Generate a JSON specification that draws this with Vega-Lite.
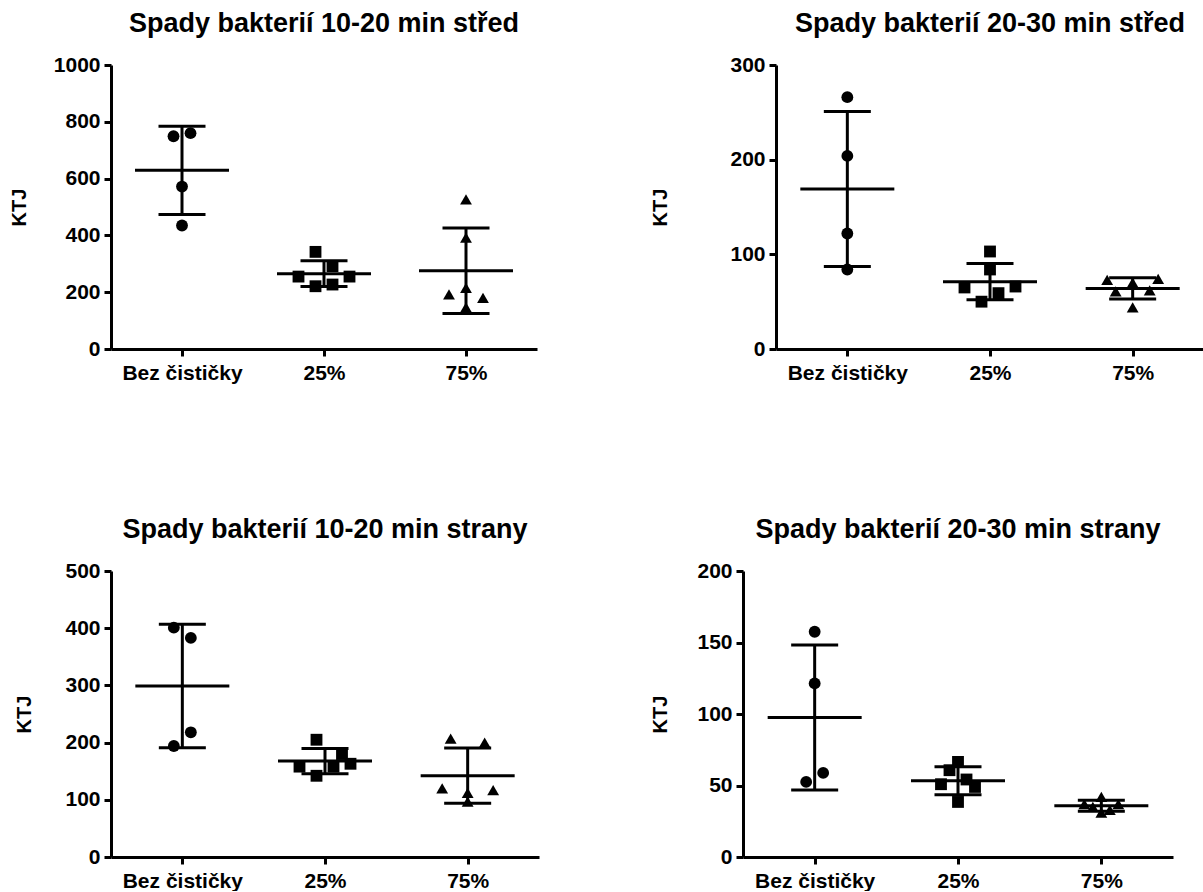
{
  "$schema": "https://vega.github.io/schema/vega-lite/v6.json",
  "background": "white",
  "padding": {"left": 9, "top": 10, "right": 0, "bottom": 0},
  "config": {
    "view": {"stroke": null},
    "font": "Liberation Sans",
    "axis": {"domainColor": "black", "domainWidth": 3, "tickColor": "black", "tickWidth": 3, "tickSize": 7, "labelFont": "Liberation Sans", "labelFontWeight": "bold", "labelFontSize": 21, "labelColor": "black", "titleFont": "Liberation Sans", "titleFontWeight": "bold", "titleFontSize": 20, "titleColor": "black", "grid": false, "labelPadding": 4},
    "title": {"font": "Liberation Sans", "fontWeight": "bold", "fontSize": 27, "color": "black", "anchor": "middle", "offset": 16}
  },
  "datasets": {
    "p1": [
      {"group": "Bez čističky", "ktj": 749, "jitter": -0.5},
      {"group": "Bez čističky", "ktj": 760, "jitter": 0.5},
      {"group": "Bez čističky", "ktj": 572, "jitter": 0},
      {"group": "Bez čističky", "ktj": 435, "jitter": 0},
      {"group": "25%", "ktj": 342, "jitter": -0.5},
      {"group": "25%", "ktj": 292, "jitter": 0.5},
      {"group": "25%", "ktj": 255, "jitter": -1.5},
      {"group": "25%", "ktj": 255, "jitter": 1.5},
      {"group": "25%", "ktj": 221, "jitter": -0.5},
      {"group": "25%", "ktj": 227, "jitter": 0.5},
      {"group": "75%", "ktj": 527, "jitter": 0},
      {"group": "75%", "ktj": 392, "jitter": 0},
      {"group": "75%", "ktj": 215, "jitter": 0},
      {"group": "75%", "ktj": 192, "jitter": -1},
      {"group": "75%", "ktj": 180, "jitter": 1},
      {"group": "75%", "ktj": 147, "jitter": 0}
    ],
    "p2": [
      {"group": "Bez čističky", "ktj": 266, "jitter": 0},
      {"group": "Bez čističky", "ktj": 204, "jitter": 0},
      {"group": "Bez čističky", "ktj": 122, "jitter": 0},
      {"group": "Bez čističky", "ktj": 84, "jitter": 0},
      {"group": "25%", "ktj": 103, "jitter": 0},
      {"group": "25%", "ktj": 84, "jitter": 0},
      {"group": "25%", "ktj": 65, "jitter": -1.5},
      {"group": "25%", "ktj": 66, "jitter": 1.5},
      {"group": "25%", "ktj": 59, "jitter": 0.5},
      {"group": "25%", "ktj": 50, "jitter": -0.5},
      {"group": "75%", "ktj": 73, "jitter": -1.5},
      {"group": "75%", "ktj": 70, "jitter": 0},
      {"group": "75%", "ktj": 74, "jitter": 1.5},
      {"group": "75%", "ktj": 61, "jitter": -1},
      {"group": "75%", "ktj": 62, "jitter": 1},
      {"group": "75%", "ktj": 44, "jitter": 0}
    ],
    "p3": [
      {"group": "Bez čističky", "ktj": 401, "jitter": -0.5},
      {"group": "Bez čističky", "ktj": 383, "jitter": 0.5},
      {"group": "Bez čističky", "ktj": 218, "jitter": 0.5},
      {"group": "Bez čističky", "ktj": 194, "jitter": -0.5},
      {"group": "25%", "ktj": 205, "jitter": -0.5},
      {"group": "25%", "ktj": 180, "jitter": 1},
      {"group": "25%", "ktj": 163, "jitter": 1.5},
      {"group": "25%", "ktj": 158, "jitter": -1.5},
      {"group": "25%", "ktj": 158, "jitter": 0.5},
      {"group": "25%", "ktj": 142, "jitter": -0.5},
      {"group": "75%", "ktj": 207, "jitter": -1},
      {"group": "75%", "ktj": 200, "jitter": 1},
      {"group": "75%", "ktj": 120, "jitter": -1.5},
      {"group": "75%", "ktj": 117, "jitter": 1.5},
      {"group": "75%", "ktj": 112, "jitter": 0},
      {"group": "75%", "ktj": 97, "jitter": 0}
    ],
    "p4": [
      {"group": "Bez čističky", "ktj": 157.5, "jitter": 0},
      {"group": "Bez čističky", "ktj": 121.4, "jitter": 0},
      {"group": "Bez čističky", "ktj": 58.8, "jitter": 0.5},
      {"group": "Bez čističky", "ktj": 52.5, "jitter": -0.5},
      {"group": "25%", "ktj": 66.5, "jitter": 0},
      {"group": "25%", "ktj": 60.7, "jitter": -0.5},
      {"group": "25%", "ktj": 54.2, "jitter": 0.5},
      {"group": "25%", "ktj": 50.9, "jitter": -1},
      {"group": "25%", "ktj": 49, "jitter": 1},
      {"group": "25%", "ktj": 38.5, "jitter": 0},
      {"group": "75%", "ktj": 42, "jitter": 0},
      {"group": "75%", "ktj": 37, "jitter": -1},
      {"group": "75%", "ktj": 37, "jitter": 1},
      {"group": "75%", "ktj": 35, "jitter": -0.5},
      {"group": "75%", "ktj": 33, "jitter": 0.5},
      {"group": "75%", "ktj": 31, "jitter": 0}
    ]
  },
  "spacing": 133,
  "vconcat": [
    {
      "spacing": 113,
      "hconcat": [
        {
          "title": "Spady bakterií 10-20 min střed",
          "data": {"name": "p1"},
          "width": 426, "height": 284,
          "encoding": {
            "x": {"field": "group", "type": "nominal", "sort": ["Bez čističky", "25%", "75%"], "scale": {"type": "point", "padding": 0.5}, "axis": {"title": null, "labelAngle": 0, "labelPadding": 6}},
            "y": {"field": "ktj", "type": "quantitative", "scale": {"domain": [0, 1000], "nice": false}, "axis": {"title": "KTJ", "format": "d", "values": [0, 200, 400, 600, 800, 1000], "titlePadding": 24}}
          },
          "layer": [
            {"mark": {"type": "point", "filled": true, "opacity": 1, "size": 140, "color": "black"},
             "encoding": {"xOffset": {"field": "jitter", "type": "quantitative", "scale": {"domain": [-2, 2], "range": [-34, 34]}},
                          "shape": {"field": "group", "type": "nominal", "scale": {"domain": ["Bez čističky", "25%", "75%"], "range": ["circle", "square", "triangle-up"]}, "legend": null}}},
            {"mark": {"type": "errorbar", "extent": "stdev", "ticks": {"color": "black", "opacity": 1}, "rule": {"color": "black", "opacity": 1}, "size": 47, "thickness": 3, "color": "black"}},
            {"mark": {"type": "tick", "size": 94, "thickness": 3, "color": "black", "opacity": 1},
             "encoding": {"y": {"aggregate": "mean", "field": "ktj", "type": "quantitative"}}}
          ]
        },
        {
          "title": "Spady bakterií 20-30 min střed",
          "data": {"name": "p2"},
          "width": 428, "height": 284,
          "encoding": {
            "x": {"field": "group", "type": "nominal", "sort": ["Bez čističky", "25%", "75%"], "scale": {"type": "point", "padding": 0.5}, "axis": {"title": null, "labelAngle": 0, "labelPadding": 6}},
            "y": {"field": "ktj", "type": "quantitative", "scale": {"domain": [0, 300], "nice": false}, "axis": {"title": "KTJ", "format": "d", "values": [0, 100, 200, 300], "titlePadding": 59}}
          },
          "layer": [
            {"mark": {"type": "point", "filled": true, "opacity": 1, "size": 140, "color": "black"},
             "encoding": {"xOffset": {"field": "jitter", "type": "quantitative", "scale": {"domain": [-2, 2], "range": [-34, 34]}},
                          "shape": {"field": "group", "type": "nominal", "scale": {"domain": ["Bez čističky", "25%", "75%"], "range": ["circle", "square", "triangle-up"]}, "legend": null}}},
            {"mark": {"type": "errorbar", "extent": "stdev", "ticks": {"color": "black", "opacity": 1}, "rule": {"color": "black", "opacity": 1}, "size": 47, "thickness": 3, "color": "black"}},
            {"mark": {"type": "tick", "size": 94, "thickness": 3, "color": "black", "opacity": 1},
             "encoding": {"y": {"aggregate": "mean", "field": "ktj", "type": "quantitative"}}}
          ]
        }
      ]
    },
    {
      "spacing": 111,
      "hconcat": [
        {
          "title": "Spady bakterií 10-20 min strany",
          "data": {"name": "p3"},
          "width": 428, "height": 286,
          "encoding": {
            "x": {"field": "group", "type": "nominal", "sort": ["Bez čističky", "25%", "75%"], "scale": {"type": "point", "padding": 0.5}, "axis": {"title": null, "labelAngle": 0, "labelPadding": 6}},
            "y": {"field": "ktj", "type": "quantitative", "scale": {"domain": [0, 500], "nice": false}, "axis": {"title": "KTJ", "format": "d", "values": [0, 100, 200, 300, 400, 500], "titlePadding": 30}}
          },
          "layer": [
            {"mark": {"type": "point", "filled": true, "opacity": 1, "size": 140, "color": "black"},
             "encoding": {"xOffset": {"field": "jitter", "type": "quantitative", "scale": {"domain": [-2, 2], "range": [-34, 34]}},
                          "shape": {"field": "group", "type": "nominal", "scale": {"domain": ["Bez čističky", "25%", "75%"], "range": ["circle", "square", "triangle-up"]}, "legend": null}}},
            {"mark": {"type": "errorbar", "extent": "stdev", "ticks": {"color": "black", "opacity": 1}, "rule": {"color": "black", "opacity": 1}, "size": 47, "thickness": 3, "color": "black"}},
            {"mark": {"type": "tick", "size": 94, "thickness": 3, "color": "black", "opacity": 1},
             "encoding": {"y": {"aggregate": "mean", "field": "ktj", "type": "quantitative"}}}
          ]
        },
        {
          "title": "Spady bakterií 20-30 min strany",
          "data": {"name": "p4"},
          "width": 430, "height": 286,
          "encoding": {
            "x": {"field": "group", "type": "nominal", "sort": ["Bez čističky", "25%", "75%"], "scale": {"type": "point", "padding": 0.5}, "axis": {"title": null, "labelAngle": 0, "labelPadding": 6}},
            "y": {"field": "ktj", "type": "quantitative", "scale": {"domain": [0, 200], "nice": false}, "axis": {"title": "KTJ", "format": "d", "values": [0, 50, 100, 150, 200], "titlePadding": 26}}
          },
          "layer": [
            {"mark": {"type": "point", "filled": true, "opacity": 1, "size": 140, "color": "black"},
             "encoding": {"xOffset": {"field": "jitter", "type": "quantitative", "scale": {"domain": [-2, 2], "range": [-34, 34]}},
                          "shape": {"field": "group", "type": "nominal", "scale": {"domain": ["Bez čističky", "25%", "75%"], "range": ["circle", "square", "triangle-up"]}, "legend": null}}},
            {"mark": {"type": "errorbar", "extent": "stdev", "ticks": {"color": "black", "opacity": 1}, "rule": {"color": "black", "opacity": 1}, "size": 47, "thickness": 3, "color": "black"}},
            {"mark": {"type": "tick", "size": 94, "thickness": 3, "color": "black", "opacity": 1},
             "encoding": {"y": {"aggregate": "mean", "field": "ktj", "type": "quantitative"}}}
          ]
        }
      ]
    }
  ]
}
